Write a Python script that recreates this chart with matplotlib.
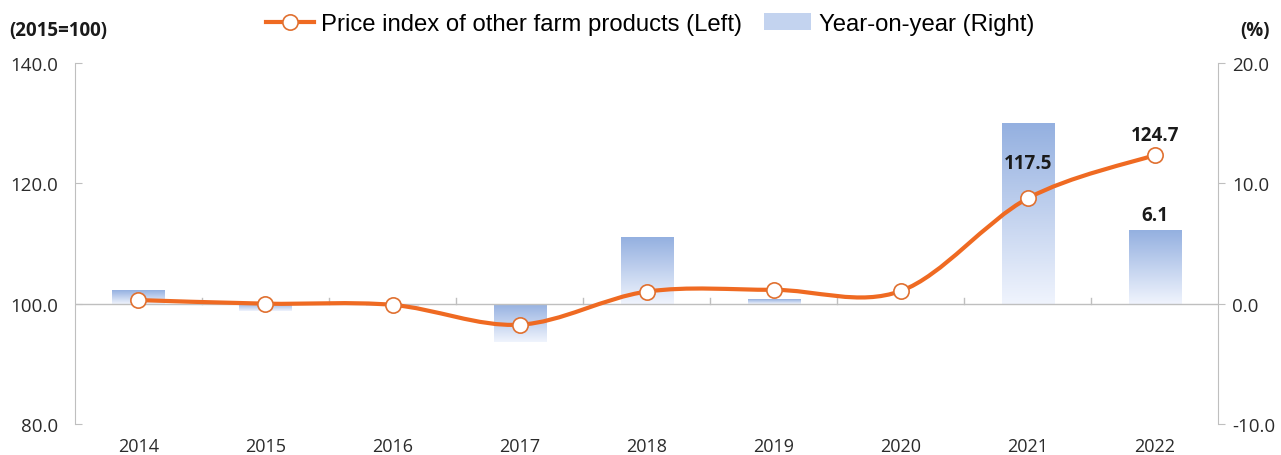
import matplotlib
matplotlib.use('Agg')
import matplotlib.pyplot as plt
import numpy as np
from matplotlib.path import Path
from matplotlib.patches import PathPatch, Patch
from matplotlib.lines import Line2D
from matplotlib.colors import LinearSegmentedColormap
import matplotlib.transforms as mtransforms

# 데이터
years = ['2014', '2015', '2016', '2017', '2018', '2019', '2020', '2021', '2022']
price_index = [100.6, 100.0, 99.8, 96.5, 102.0, 102.3, 102.1, 117.5, 124.7]
yoy = [1.1, -0.6, -0.2, -3.2, 5.5, 0.4, -0.1, 15.0, 6.1]

left_ticks = [80.0, 100.0, 120.0, 140.0]
right_ticks = [-10.0, 0.0, 10.0, 20.0]

line_color = '#ef6a22'
tick_color = '#2b2b2b'
axis_gray = '#bfbfbf'

plt.rcParams['font.family'] = ['Open Sans', 'DejaVu Sans']

fig = plt.figure(figsize=(12.81, 4.56), dpi=100)
ax = fig.add_axes([0.0585, 0.068, 0.8925, 0.7916])
ax2 = ax.twinx()
ax.set_zorder(ax2.get_zorder() + 1)
ax.patch.set_visible(False)

x = np.arange(len(years))

# 막대 (그라데이션)
cmap = LinearSegmentedColormap.from_list('bar', ['#f0f4fd', '#94b0e0'])
grad = np.linspace(0, 1, 256).reshape(-1, 1)
bar_w = 0.41
bars = ax2.bar(x, yoy, width=bar_w, color='none', edgecolor='none')
for b, v in zip(bars, yoy):
    x0 = b.get_x()
    lo, hi = min(0, v), max(0, v)
    im = ax2.imshow(grad, cmap=cmap, origin='lower', aspect='auto',
                    extent=[x0, x0 + bar_w, lo, hi], zorder=1)
    im.set_clip_path(b)

ax2.set_xlim(-0.5, len(years) - 0.5)
ax2.set_ylim(-10, 20)
ax2.set_yticks(right_ticks)
ax2.set_yticklabels([f'{t:.1f}' for t in right_ticks])

# 부드러운 선 (Catmull-Rom -> 베지어)
def smooth_path(xs, ys):
    pts = np.column_stack([xs, ys]).astype(float)
    n = len(pts)
    verts = [pts[0]]
    codes = [Path.MOVETO]
    for i in range(n - 1):
        p0 = pts[i - 1] if i > 0 else pts[i]
        p1 = pts[i]
        p2 = pts[i + 1]
        p3 = pts[i + 2] if i + 2 < n else pts[i + 1]
        c1 = p1 + (p2 - p0) / 6.0
        c2 = p2 - (p3 - p1) / 6.0
        verts += [c1, c2, p2]
        codes += [Path.CURVE4] * 3
    return Path(verts, codes)

ax.add_patch(PathPatch(smooth_path(x, price_index), facecolor='none',
                       edgecolor=line_color, lw=3.0, zorder=3, capstyle='round'))
ax.plot(x, price_index, linestyle='none', marker='o', markersize=11,
        markerfacecolor='white', markeredgecolor='#e07030', markeredgewidth=1.2, zorder=4)

ax.set_xlim(-0.5, len(years) - 0.5)
ax.set_ylim(80, 140)
ax.set_yticks(left_ticks)
ax.set_yticklabels([f'{t:.1f}' for t in left_ticks])

# 축 스타일
for a in (ax, ax2):
    a.spines['top'].set_visible(False)
    a.spines['bottom'].set_visible(False)
    a.spines['left'].set_color(axis_gray)
    a.spines['right'].set_color(axis_gray)
    a.tick_params(axis='x', which='both', bottom=False, labelbottom=False)
ax.spines['right'].set_visible(False)
ax2.spines['left'].set_visible(False)
ax.tick_params(axis='y', direction='in', length=5, color=axis_gray,
               labelsize=13.5, labelcolor=tick_color, pad=12)
ax2.tick_params(axis='y', direction='out', length=5, color=axis_gray,
                labelsize=13.5, labelcolor=tick_color, pad=5)

# 100 기준 가로축
ax.axhline(100, color=axis_gray, lw=1, zorder=2)
for b in np.arange(0.5, len(years) - 1, 1.0):
    ax.plot([b, b], [100, 100.9], color=axis_gray, lw=1, zorder=2)

# 카테고리 라벨
trans = mtransforms.blended_transform_factory(ax.transData, ax.transAxes)
for xi, yr in zip(x, years):
    ax.text(xi, -0.062, yr, transform=trans, ha='center', va='center',
            fontsize=13, color=tick_color)

# 데이터 라벨
ax.text(x[7], price_index[7] + 5.8, f'{price_index[7]:.1f}', ha='center', va='center',
        fontsize=13.5, fontweight='bold', color='#1a1a1a', zorder=5)
ax.text(x[8], price_index[8] + 3.4, f'{price_index[8]:.1f}', ha='center', va='center',
        fontsize=13.5, fontweight='bold', color='#1a1a1a', zorder=5)
ax2.text(x[8], yoy[8] + 1.25, f'{yoy[8]:.1f}', ha='center', va='center',
         fontsize=13.5, fontweight='bold', color='#1a1a1a', zorder=5)

# 단위
fig.text(9 / 1281, 1 - 31 / 456, '(2015=100)', ha='left', va='center',
         fontsize=13.5, fontweight='bold', color='#1a1a1a')
fig.text(1270 / 1281, 1 - 31 / 456, '(%)', ha='right', va='center',
         fontsize=13.5, fontweight='bold', color='#1a1a1a')

# 범례
handles = [
    Line2D([0], [0], color=line_color, lw=3.0, marker='o', markersize=11,
           markerfacecolor='white', markeredgecolor='#e07030', markeredgewidth=1.2),
    Patch(facecolor='#c3d3ef', edgecolor='none'),
]
labels = ['Price index of other farm products (Left)', 'Year-on-year (Right)']
fig.legend(handles, labels, loc='center', bbox_to_anchor=(650 / 1281, 1 - 25 / 456),
           ncol=2, frameon=False, handlelength=2.0, handletextpad=0.3, columnspacing=0.9,
           prop={'family': ['Liberation Sans', 'DejaVu Sans'], 'size': 17.2})

fig.savefig('out.png', dpi=100)
